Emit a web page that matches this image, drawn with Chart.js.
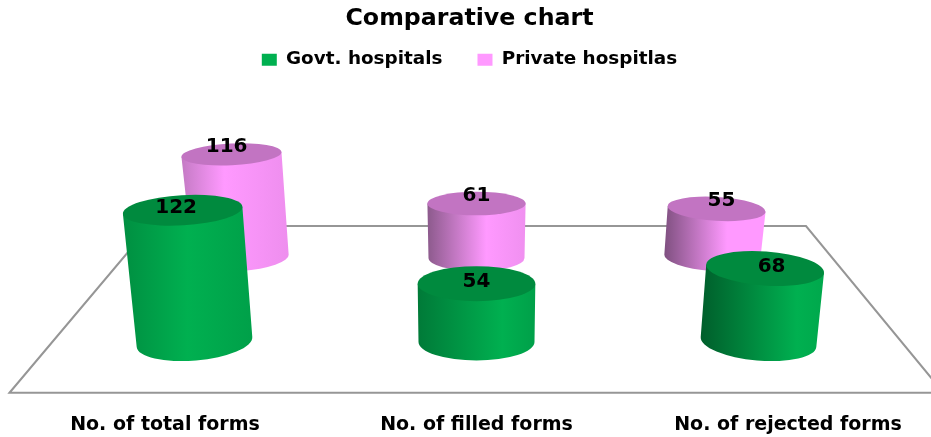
<!DOCTYPE html>
<html><head><meta charset="utf-8">
<style>html,body{margin:0;padding:0;background:#fff}#wrap{width:931px;height:437px}</style>
<script src="https://cdn.jsdelivr.net/npm/chart.js@4"></script>
</head><body><div id="wrap"><canvas id="c" width="931" height="437"></canvas></div>
<script>
const categories = ['No. of total forms','No. of filled forms','No. of rejected forms'];
const govtValues = [122,54,68];
const privateValues = [116,61,55];
const FONT = '"DejaVu Sans"';

const shades = {
  govt: {side:'#00B050', top:'#008A3E',
    left:['#008F41','#007A38','#005E2B'], right:['#00A049','#00A049','#00A84C'], peak:[.5,.72,.78]},
  priv: {side:'#FF99FF', top:'#C274C2',
    left:['#C47AC4','#8C5A8C','#7F5080'], right:['#EE8EEE','#F090F0','#FF99FF'], peak:[.4,.6,.62]}
};
const look = {
  govt:{ryB:18.5, ryT0:19.4, ryK:.033, grow:.014, tiltB:.085, labelDy:-2, labelDx:6.5},
  priv:{ryB:13, ryT0:12.9, ryK:.02, grow:.02, tiltB:.07, labelDy:-8, labelDx:4.8}
};

const floorPlugin = {
  id:'floor',
  beforeDatasetsDraw(chart){
    const {ctx,chartArea:a,scales}=chart;
    const cx=(a.left+a.right)/2, y1=scales.yG.getPixelForValue(-47), y0=scales.yG.getPixelForValue(107.4);
    ctx.save();
    ctx.strokeStyle='#969696'; ctx.lineWidth=2; ctx.lineJoin='miter';
    ctx.beginPath();
    ctx.moveTo(cx-467,y1); ctx.lineTo(cx-326.5,y0); ctx.lineTo(cx+329.5,y0); ctx.lineTo(cx+467,y1); ctx.closePath();
    ctx.stroke();
    ctx.restore();
  }
};

const cylinderPlugin = {
  id:'cylinders',
  beforeDatasetDraw(chart,args){
    const ctx=chart.ctx, ds=chart.data.datasets[args.index], meta=args.meta;
    const S=shades[ds.key], L=look[ds.key];
    meta.data.forEach((el,i)=>{
      const k=i-1, h=el.base-el.y;
      const bx=el.x, by=el.base, rb=el.width/2;
      const tx=bx+k*.09*h, ty=el.y, rt=rb+L.grow*h;
      const ryT=L.ryT0-L.ryK*h, rotB=k*L.tiltB, rotT=k*(L.tiltB-.0002*h);
      const xl=Math.min(bx-rb,tx-rt), xr=Math.max(bx+rb,tx+rt);
      const g=ctx.createLinearGradient(xl,0,xr,0);
      g.addColorStop(0,S.left[i]); g.addColorStop(S.peak[i],S.side); g.addColorStop(1,S.right[i]);
      ctx.save();
      ctx.fillStyle=g;
      ctx.beginPath();
      ctx.moveTo(tx-rt*Math.cos(rotT),ty-rt*Math.sin(rotT));
      ctx.lineTo(bx-rb*Math.cos(rotB),by-rb*Math.sin(rotB));
      ctx.ellipse(bx,by,rb,L.ryB,rotB,Math.PI,0,true);
      ctx.lineTo(tx+rt*Math.cos(rotT),ty+rt*Math.sin(rotT));
      ctx.closePath(); ctx.fill();
      ctx.fillStyle=S.top;
      ctx.beginPath(); ctx.ellipse(tx,ty,rt,ryT,rotT,0,Math.PI*2); ctx.fill();
      ctx.fillStyle='#000';
      ctx.font='bold 20px '+FONT; ctx.textAlign='center'; ctx.textBaseline='middle';
      ctx.fillText(String(ds.data[i].y),tx+k*L.labelDx,ty+L.labelDy);
      ctx.restore();
    });
    return false;
  }
};

const axisWidth = w => ({afterFit(s){s.width=w;}});

new Chart(document.getElementById('c'),{
  type:'bar',
  data:{
    labels:categories,
    datasets:[
      {key:'govt',label:'Govt. hospitals',data:govtValues.map((y,x)=>({x,y})),xAxisID:'xG',yAxisID:'yG',
       backgroundColor:'#00B050',barThickness:116,grouped:false},
      {key:'priv',label:'Private hospitlas',data:privateValues.map((y,x)=>({x,y})),xAxisID:'xP',yAxisID:'yP',
       backgroundColor:'#FF99FF',barThickness:96,grouped:false}
    ]
  },
  options:{
    responsive:false,animation:false,
    layout:{padding:{left:8,right:0,top:5,bottom:0}},
    plugins:{
      title:{display:true,text:'Comparative chart',color:'#000',font:{family:FONT,size:23.7,weight:'bold'},padding:{top:0,bottom:-18}},
      legend:{position:'top',labels:{color:'#000',boxWidth:15,boxHeight:12,padding:35,font:{family:FONT,size:18.4,weight:'bold'}}},
      tooltip:{enabled:false}
    },
    scales:{
      x:{type:'category',position:'bottom',offset:false,grid:{display:false},border:{display:false},
         ticks:{color:'#000',autoSkip:false,maxRotation:0,padding:1,font:{family:FONT,size:19,weight:'bold'}}},
      xG:{type:'linear',display:false,offset:false,min:-0.1046,max:2.1046},
      xP:{type:'linear',display:false,offset:false,min:-0.3215,max:2.3215},
      yG:{type:'linear',position:'left',min:-57.6,max:243.67,grid:{display:false},border:{display:false},ticks:{display:false},...axisWidth(157)},
      yP:{type:'linear',position:'right',min:-163.7,max:200.6,grid:{display:false},border:{display:false},ticks:{display:false},...axisWidth(143)}
    }
  },
  plugins:[floorPlugin,cylinderPlugin]
});
</script></body></html>
